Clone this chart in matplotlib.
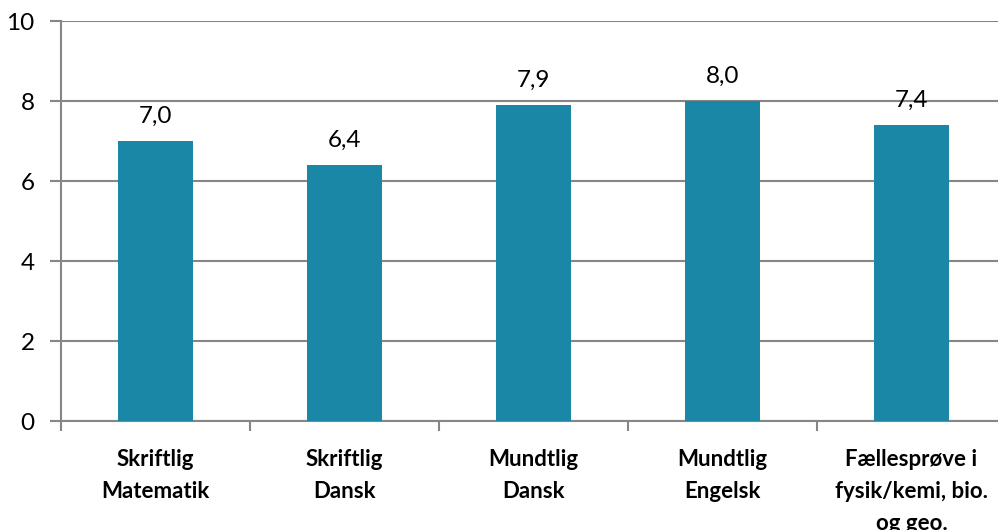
import matplotlib
matplotlib.use("Agg")
import matplotlib.pyplot as plt
import numpy as np

categories = ["Skriftlig\nMatematik", "Skriftlig\nDansk", "Mundtlig\nDansk",
              "Mundtlig\nEngelsk", "Fællesprøve i\nfysik/kemi, bio.\nog geo."]
values = [7.0, 6.4, 7.9, 8.0, 7.4]
value_labels = ["7,0", "6,4", "7,9", "8,0", "7,4"]
yticks = [0, 2, 4, 6, 8, 10]

plt.rcParams['font.family'] = ['Lato', 'DejaVu Sans']

W, H = 998, 530
fig = plt.figure(figsize=(W/100, H/100), dpi=100)
left, right, top, bottom = 61, 1006, 21, 421
ax = fig.add_axes([left/W, 1-bottom/H, (right-left)/W, (bottom-top)/H])

grey = "#868686"
x = np.arange(len(values))
ax.bar(x, values, width=0.4, color="#1B87A6", zorder=3)
for xi, v, lab in zip(x, values, value_labels):
    ax.text(xi, v + 0.35, lab, ha="center", va="bottom", fontsize=17.5, color="black")

ax.set_xlim(-0.5, len(values) - 0.5)
ax.set_ylim(0, 10)
ax.set_yticks(yticks)
ax.set_yticklabels([str(t) for t in yticks], fontsize=17.5)
ax.yaxis.grid(True, color=grey, linewidth=1.5, zorder=0)
ax.set_axisbelow(True)

ax.set_xticks(np.arange(-0.5, len(values) + 0.5, 1.0))
ax.set_xticklabels([])
ax.set_xticks(x, minor=True)
ax.set_xticklabels(categories, minor=True, fontsize=16, fontweight="bold", linespacing=1.65)
ax.tick_params(axis="x", which="minor", length=0, pad=20)
ax.tick_params(axis="x", which="major", length=7, color=grey, width=1.5, direction="out")
ax.tick_params(axis="y", length=8, color=grey, width=1.5, pad=11)

for s in ["top", "right"]:
    ax.spines[s].set_visible(False)
for s in ["left", "bottom"]:
    ax.spines[s].set_color(grey)
    ax.spines[s].set_linewidth(1.5)

fig.savefig("out.png", dpi=100)
